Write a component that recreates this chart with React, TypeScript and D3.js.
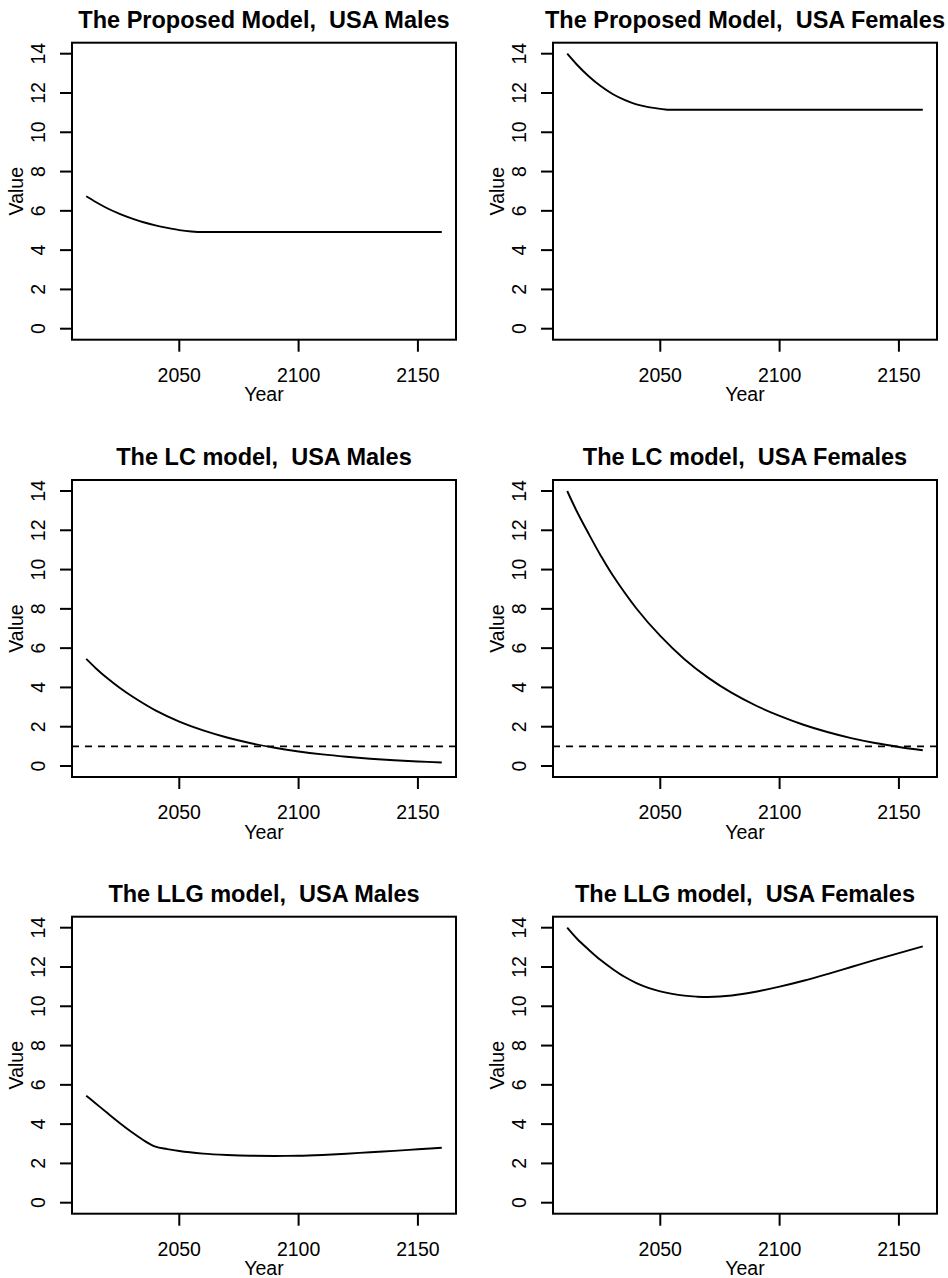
import React from 'react';
import * as d3 from 'd3';

// ---- data ----
const YEAR_TICKS = [2050, 2100, 2150];
const VALUE_TICKS = [0, 2, 4, 6, 8, 10, 12, 14];
const YEAR_RANGE: [number, number] = [2011, 2160];
const VALUE_RANGE: [number, number] = [0, 14];
const REFERENCE_LEVEL = 1;

const proposedMalesYears = [2011, 2015, 2020, 2025, 2030, 2035, 2040, 2045, 2050, 2055, 2060, 2080, 2100, 2120, 2140, 2160];
const proposedMalesValues = [6.74, 6.45, 6.12, 5.85, 5.62, 5.42, 5.26, 5.13, 5.02, 4.95, 4.92, 4.92, 4.92, 4.92, 4.92, 4.92];

const proposedFemalesYears = [2011, 2015, 2020, 2025, 2030, 2035, 2040, 2045, 2050, 2053, 2080, 2110, 2140, 2160];
const proposedFemalesValues = [14.0, 13.45, 12.85, 12.35, 11.95, 11.65, 11.42, 11.28, 11.19, 11.15, 11.15, 11.15, 11.15, 11.15];

const lcMalesYears = [2011, 2015, 2020, 2025, 2030, 2040, 2050, 2060, 2070, 2080, 2090, 2100, 2110, 2120, 2130, 2140, 2150, 2160];
const lcMalesValues = [5.45, 4.98, 4.45, 3.98, 3.56, 2.83, 2.26, 1.81, 1.45, 1.16, 0.93, 0.74, 0.59, 0.47, 0.37, 0.29, 0.23, 0.18];

const lcFemalesYears = [2011, 2015, 2020, 2025, 2030, 2040, 2050, 2060, 2070, 2080, 2090, 2100, 2110, 2120, 2130, 2140, 2150, 2160];
const lcFemalesValues = [14.0, 12.97, 11.82, 10.72, 9.72, 8.02, 6.62, 5.45, 4.5, 3.72, 3.08, 2.55, 2.1, 1.73, 1.42, 1.17, 0.97, 0.8];

const llgMalesYears = [2011, 2015, 2020, 2025, 2030, 2035, 2040, 2045, 2050, 2060, 2070, 2080, 2090, 2100, 2110, 2120, 2130, 2140, 2150, 2160];
const llgMalesValues = [5.45, 5.05, 4.55, 4.06, 3.6, 3.18, 2.85, 2.73, 2.63, 2.5, 2.43, 2.39, 2.38, 2.39, 2.43, 2.49, 2.57, 2.64, 2.72, 2.8];

const llgFemalesYears = [2011, 2015, 2020, 2025, 2030, 2035, 2040, 2045, 2050, 2055, 2060, 2065, 2070, 2080, 2090, 2100, 2110, 2120, 2130, 2140, 2150, 2160];
const llgFemalesValues = [14.0, 13.45, 12.88, 12.35, 11.9, 11.5, 11.18, 10.94, 10.76, 10.63, 10.54, 10.49, 10.47, 10.55, 10.74, 11.0, 11.3, 11.64, 12.0, 12.36, 12.71, 13.05];

const panelTitles = [
  'The Proposed Model,  USA Males',
  'The Proposed Model,  USA Females',
  'The LC model,  USA Males',
  'The LC model,  USA Females',
  'The LLG model,  USA Males',
  'The LLG model,  USA Females',
];
const panelYears = [proposedMalesYears, proposedFemalesYears, lcMalesYears, lcFemalesYears, llgMalesYears, llgFemalesYears];
const panelValues = [proposedMalesValues, proposedFemalesValues, lcMalesValues, lcFemalesValues, llgMalesValues, llgFemalesValues];
const panelHasReference = [false, false, true, true, false, false];
const panelSmooth = [false, false, true, true, false, true];

// ---- layout ----
const W = 948;
const H = 1278;
const COL_LEFT = [72, 553];
const ROW_TOP = [42.7, 480, 916.7];
const BOX_W = 384;
const BOX_H = 297;
const FONT = '"Liberation Sans", Arial, Helvetica, sans-serif';
const AXIS_FS = 19.5;

function pad(r: [number, number]): [number, number] {
  const e = (r[1] - r[0]) * 0.04;
  return [r[0] - e, r[1] + e];
}

function Panel({ idx }: { idx: number }) {
  const col = idx % 2;
  const row = Math.floor(idx / 2);
  const left = COL_LEFT[col];
  const top = ROW_TOP[row];
  const x = d3.scaleLinear().domain(pad(YEAR_RANGE)).range([left, left + BOX_W]);
  const y = d3.scaleLinear().domain(pad(VALUE_RANGE)).range([top + BOX_H, top]);
  const pts = panelYears[idx].map((yr, i) => [yr, panelValues[idx][i]] as [number, number]);
  const line = d3
    .line<[number, number]>()
    .x((d) => x(d[0]))
    .y((d) => y(d[1]))
    .curve(panelSmooth[idx] ? d3.curveCatmullRom.alpha(0.5) : d3.curveMonotoneX);
  const cx = left + BOX_W / 2;
  const cy = top + BOX_H / 2;
  const bottom = top + BOX_H;
  const tick = 12;
  return (
    <g>
      <text
        x={cx}
        y={top - 15}
        textAnchor="middle"
        fontWeight="bold"
        fontSize={23.5}
        style={{ whiteSpace: 'pre' }}
      >
        {panelTitles[idx]}
      </text>
      {panelHasReference[idx] && (
        <line
          x1={left}
          x2={left + BOX_W}
          y1={y(REFERENCE_LEVEL)}
          y2={y(REFERENCE_LEVEL)}
          stroke="#000"
          strokeWidth={1.8}
          strokeDasharray="7,6"
        />
      )}
      <path d={line(pts) || ''} fill="none" stroke="#000" strokeWidth={1.9} />
      <rect x={left} y={top} width={BOX_W} height={BOX_H} fill="none" stroke="#000" strokeWidth={2} />
      {YEAR_TICKS.map((t) => (
        <g key={'x' + t}>
          <line x1={x(t)} x2={x(t)} y1={bottom} y2={bottom + tick} stroke="#000" strokeWidth={2} />
          <text x={x(t)} y={bottom + 42} textAnchor="middle" fontSize={AXIS_FS}>
            {t}
          </text>
        </g>
      ))}
      {VALUE_TICKS.map((t) => (
        <g key={'y' + t}>
          <line x1={left - tick} x2={left} y1={y(t)} y2={y(t)} stroke="#000" strokeWidth={2} />
          <text
            transform={`translate(${left - 27},${y(t)}) rotate(-90)`}
            textAnchor="middle"
            fontSize={AXIS_FS}
          >
            {t}
          </text>
        </g>
      ))}
      <text x={cx} y={bottom + 61.5} textAnchor="middle" fontSize={AXIS_FS}>
        Year
      </text>
      <text
        transform={`translate(${left - 48.7},${cy}) rotate(-90)`}
        textAnchor="middle"
        fontSize={AXIS_FS}
      >
        Value
      </text>
    </g>
  );
}

export default function App() {
  return (
    <svg
      width={W}
      height={H}
      viewBox={`0 0 ${W} ${H}`}
      style={{ position: 'absolute', left: 0, top: 0, background: '#fff' }}
      fontFamily={FONT}
    >
      <rect x={0} y={0} width={W} height={H} fill="#fff" />
      {panelTitles.map((_, i) => (
        <Panel key={i} idx={i} />
      ))}
    </svg>
  );
}
